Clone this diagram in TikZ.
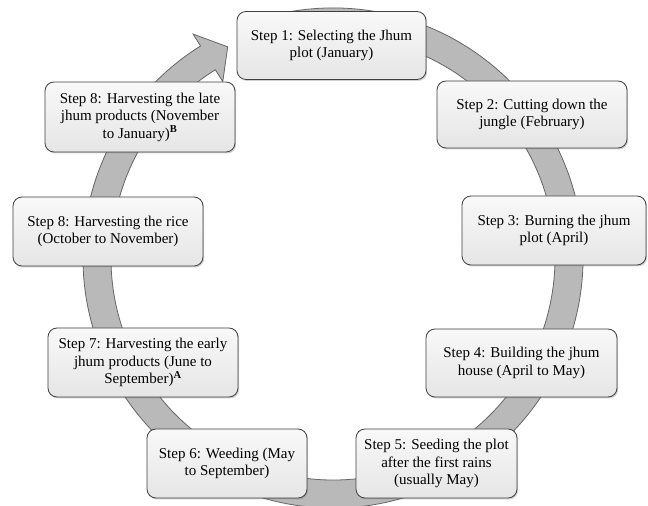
\documentclass[tikz,border=0pt]{standalone}
\usepackage{fontspec}
\setmainfont{Liberation Serif}
\usetikzlibrary{shadows,calc}
\begin{document}
\begin{tikzpicture}[x=1pt,y=1pt,
  stepbox/.style={draw=black!75, line width=0.8pt, rounded corners=9pt,
    top color=gray!5, bottom color=gray!20,
    drop shadow={shadow xshift=1.2pt, shadow yshift=-1.5pt, opacity=0.35},
    align=center, font=\fontsize{15}{17.5}\selectfont, inner sep=2pt},
  ring/.style={fill=gray!55, draw=black!60, line width=0.8pt}]
\useasboundingbox (0,0) rectangle (648,506);
\fill[white] (0,0) rectangle (648,506);
\coordinate (c) at (333,248);
% circular arrow
\draw[ring] ($(c)+(110:250)$) arc[start angle=110, end angle=-238, radius=250]
  -- ($(c)+(-238:264)$) -- ($(c)+(-243.5:236)$) -- ($(c)+(-238:208)$)
  -- ($(c)+(-238:222)$) arc[start angle=-238, end angle=110, radius=222] -- cycle;
% boxes
\node[stepbox, minimum width=189pt, minimum height=68pt] (s1) at (331.5,460.5)
  {Step 1: Selecting the Jhum\\plot (January)};
\node[stepbox, minimum width=190pt, minimum height=67pt] (s2) at (532,391.5)
  {Step 2: Cutting down the\\jungle (February)};
\node[stepbox, minimum width=184pt, minimum height=69pt] (s3) at (554,275.5)
  {Step 3: Burning the jhum\\plot (April)};
\node[stepbox, minimum width=191pt, minimum height=68pt] (s4) at (521.5,143)
  {Step 4: Building the jhum\\house (April to May)};
\node[stepbox, minimum width=161pt, minimum height=69pt] (s5) at (436.5,42.5)
  {Step 5: Seeding the plot\\after the first rains\\(usually May)};
\node[stepbox, minimum width=160pt, minimum height=69pt] (s6) at (227,42.5)
  {Step 6: Weeding (May\\to September)};
\node[stepbox, minimum width=190pt, minimum height=69pt] (s7) at (143,143.5)
  {Step 7: Harvesting the early\\jhum products (June to\\September)\textsuperscript{\textbf{A}}};
\node[stepbox, minimum width=190pt, minimum height=69pt] (s8r) at (108,274.5)
  {Step 8: Harvesting the rice\\(October to November)};
\node[stepbox, minimum width=190pt, minimum height=70pt] (s8l) at (140,389)
  {Step 8: Harvesting the late\\jhum products (November\\to January)\textsuperscript{\textbf{B}}};
\end{tikzpicture}
\end{document}
